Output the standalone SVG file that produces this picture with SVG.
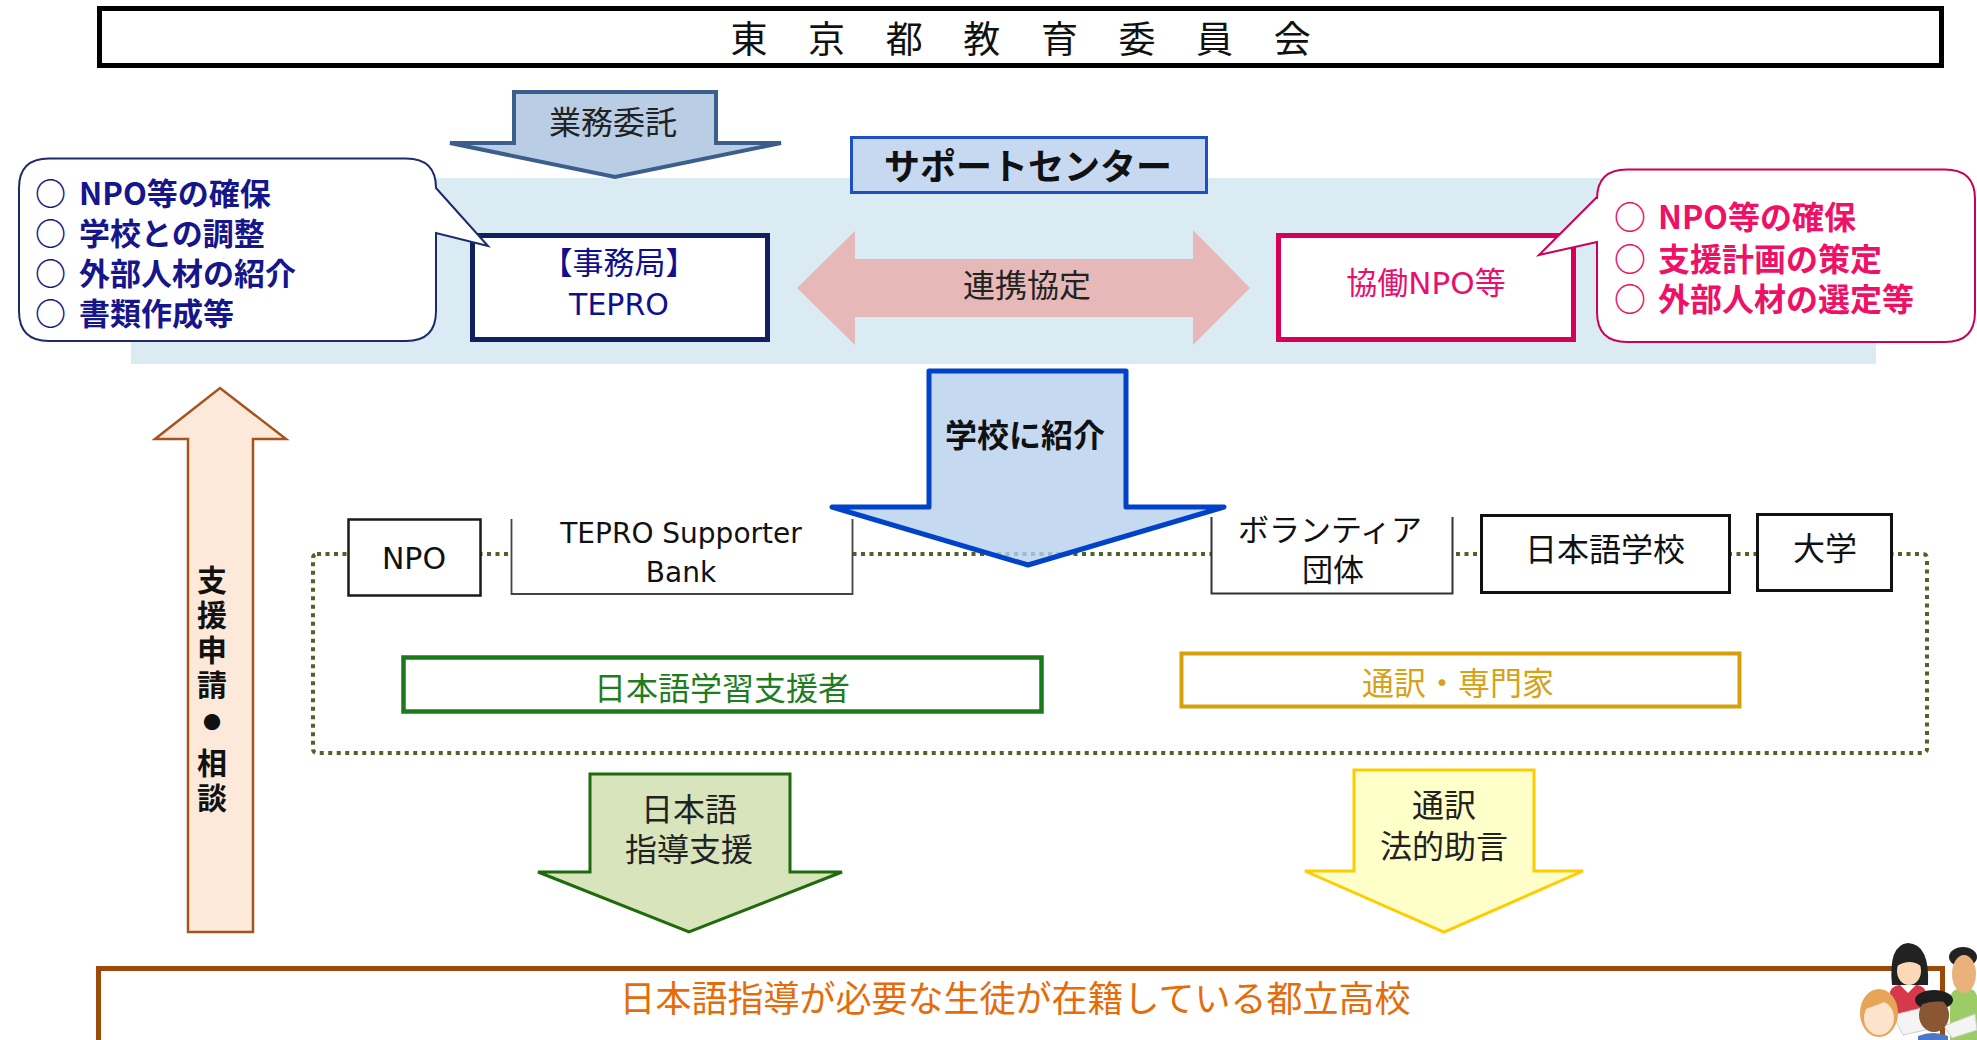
<svg xmlns="http://www.w3.org/2000/svg" width="1977" height="1040" viewBox="0 0 1977 1040">
  <style>
    .jp { font-family: "Noto Sans CJK JP", sans-serif; }
    .mix { font-family: "DejaVu Sans", "Noto Sans CJK JP", sans-serif; }
    .b { font-weight: bold; }
    .c { text-anchor: middle; }
    .box { fill: #ffffff; }
    .dots { fill: none; stroke: #4f6228; stroke-width: 4; stroke-dasharray: 4 4.5; }
    .vert { writing-mode: vertical-rl; text-orientation: upright; }
  </style>

  <rect width="1977" height="1040" fill="#ffffff"/>

  <!-- header: board of education -->
  <g id="board">
    <rect x="99.5" y="8.5" width="1842" height="57" fill="#ffffff" stroke="#000000" stroke-width="5"/>
    <text class="jp c" font-size="37" fill="#111111" y="53" x="749 826.6 904.2 981.8 1059.4 1137 1214.6 1292.2">東京都教育委員会</text>
  </g>

  <!-- support center band -->
  <rect id="support-band" x="131" y="178" width="1745" height="186" fill="#daebf3"/>

  <g id="support-center-title">
    <rect x="851.5" y="137.5" width="355" height="55" fill="#c6d9f1" stroke="#1f4fc4" stroke-width="3"/>
    <text class="jp b c" font-size="36" fill="#111111" x="1028" y="180">サポートセンター</text>
  </g>

  <g id="secretariat">
    <rect x="472.5" y="235.5" width="295" height="104" class="box" stroke="#102060" stroke-width="5"/>
    <text class="mix c" font-size="30" fill="#10108e"><tspan x="619" y="274" font-size="31">【事務局】</tspan><tspan x="619" y="315">TEPRO</tspan></text>
  </g>

  <g id="npo-partner">
    <rect x="1278.5" y="235.5" width="295" height="104" class="box" stroke="#d6005b" stroke-width="5"/>
    <text class="mix c" font-size="31" fill="#e8106e" x="1426" y="294">協働NPO等</text>
  </g>

  <!-- callout: secretariat duties -->
  <g id="secretariat-duties">
    <path d="M49,158.5 H406 Q436,158.5 436,188 L488,246 L436,233 V311 Q436,341 406,341 H49 Q19,341 19,311 V188 Q19,158.5 49,158.5 Z" fill="#ffffff" stroke="#1f2a6b" stroke-width="2"/>
    <text class="jp b" font-size="31" fill="#16168c">
      <tspan x="35" y="205">○</tspan><tspan x="79" y="205">NPO等の確保</tspan>
      <tspan x="35" y="245">○</tspan><tspan x="79" y="245">学校との調整</tspan>
      <tspan x="35" y="285">○</tspan><tspan x="79" y="285">外部人材の紹介</tspan>
      <tspan x="35" y="325">○</tspan><tspan x="79" y="325">書類作成等</tspan>
    </text>
  </g>

  <!-- callout: NPO duties -->
  <g id="npo-duties">
    <path d="M1627,169.5 H1945 Q1975,169.5 1975,199 V312 Q1975,342 1945,342 H1627 Q1597,342 1597,312 V242 L1539,255 L1597,197 V199 Q1597,169.5 1627,169.5 Z" fill="#ffffff" stroke="#cc0055" stroke-width="2"/>
    <text class="jp b" font-size="32" fill="#ee1166">
      <tspan x="1614" y="229">○</tspan><tspan x="1658" y="229">NPO等の確保</tspan>
      <tspan x="1614" y="271">○</tspan><tspan x="1658" y="271">支援計画の策定</tspan>
      <tspan x="1614" y="311">○</tspan><tspan x="1658" y="311">外部人材の選定等</tspan>
    </text>
  </g>

  <!-- resource pool -->
  <rect id="resource-pool" class="dots" x="313" y="554" width="1614" height="199" rx="4"/>

  <g id="npo">
    <rect x="348.5" y="519.5" width="132" height="76" class="box" stroke="#1a1a1a" stroke-width="2.5"/>
    <text class="mix c" font-size="30" fill="#111111" x="414" y="569">NPO</text>
  </g>

  <g id="supporter-bank">
    <rect x="511" y="519" width="342" height="75" class="box"/>
    <path d="M511.5,519 V594 H852.5 V519" fill="none" stroke="#444444" stroke-width="1.8"/>
    <text class="mix c" font-size="28" fill="#111111"><tspan x="681" y="543">TEPRO Supporter</tspan><tspan x="681" y="582">Bank</tspan></text>
  </g>

  <g id="volunteer">
    <rect x="1211" y="517" width="242" height="77" class="box"/>
    <path d="M1211.5,517 V593.5 H1452.5 V517" fill="none" stroke="#333333" stroke-width="2"/>
    <text class="jp c" font-size="31" fill="#111111"><tspan x="1330" y="541">ボランティア</tspan><tspan x="1333" y="581">団体</tspan></text>
  </g>

  <g id="language-school">
    <rect x="1481.5" y="515.5" width="248" height="77" class="box" stroke="#111111" stroke-width="3"/>
    <text class="jp c" font-size="32" fill="#111111" x="1605" y="561">日本語学校</text>
  </g>

  <g id="university">
    <rect x="1757.5" y="514.5" width="134" height="76" class="box" stroke="#111111" stroke-width="3"/>
    <text class="jp c" font-size="32" fill="#111111" x="1825" y="560">大学</text>
  </g>

  <g id="japanese-supporters">
    <rect x="403.5" y="657.5" width="638" height="54" class="box" stroke="#1b7a1b" stroke-width="4.5"/>
    <text class="jp c" font-size="32" fill="#1e7d1e" x="722" y="700">日本語学習支援者</text>
  </g>

  <g id="interpreters">
    <rect x="1181.5" y="653.5" width="558" height="53" class="box" stroke="#d4a10a" stroke-width="4"/>
    <text class="jp c" font-size="32" fill="#d6a21a" x="1458" y="695">通訳・専門家</text>
  </g>

  <!-- target: metropolitan high schools -->
  <g id="high-schools">
    <rect x="98.5" y="968.5" width="1844" height="100" fill="#ffffff" stroke="#9c4a0c" stroke-width="5"/>
    <text class="jp c" font-size="36" fill="#e46c0a" x="1015" y="1012">日本語指導が必要な生徒が在籍している都立高校</text>
  </g>

  <!-- students illustration -->
  <g id="students">
    <path d="M1950,1040 V1000 Q1950,988 1964,988 Q1977,988 1977,998 V1040 Z" fill="#9ccc65"/>
    <ellipse cx="1963" cy="957" rx="14" ry="10" fill="#222222"/>
    <ellipse cx="1964" cy="974" rx="12" ry="19" fill="#e9b27c"/>
    <path d="M1890,1020 V992 Q1892,984 1908,984 Q1924,984 1926,992 V1020 Z" fill="#d63a4a"/>
    <path d="M1900,985 L1908,993 L1916,985 Z" fill="#ffffff"/>
    <path d="M1892,985 Q1888,945 1908,943 Q1930,944 1928,985 Z" fill="#222222"/>
    <ellipse cx="1909" cy="971" rx="12" ry="14" fill="#fbd9b8"/>
    <path d="M1897,966 Q1900,950 1916,953 Q1922,958 1921,966 Q1910,958 1897,966 Z" fill="#222222"/>
    <path d="M1893,1015 L1935,1005 L1948,1025 L1903,1035 Z" fill="#f4f4f4" stroke="#cfcfcf" stroke-width="1"/>
    <path d="M1944,1026 L1975,1014 L1977,1030 L1952,1038 Z" fill="#f4f4f4" stroke="#cfcfcf" stroke-width="1"/>
    <ellipse cx="1879" cy="1013" rx="19" ry="24" fill="#e7a55a"/>
    <ellipse cx="1879" cy="1018" rx="15" ry="17" fill="#fde2cc"/>
    <path d="M1862,1005 Q1870,990 1892,998 Q1882,1004 1862,1010 Z" fill="#e7a55a"/>
    <path d="M1918,1040 V1036 Q1933,1030 1948,1036 V1040 Z" fill="#4a78c8"/>
    <ellipse cx="1934" cy="1000" rx="19" ry="10" fill="#1e1e1e"/>
    <ellipse cx="1934" cy="1015" rx="15" ry="17" fill="#8a5634"/>
    <path d="M1918,1003 Q1934,992 1950,1003 Q1934,999 1918,1006 Z" fill="#1e1e1e"/>
  </g>

  <!-- connectors -->
  <g id="connectors">
    <!-- consignment -->
    <g id="consignment">
      <polygon points="514,92 716,92 716,143 781,143 615,177 450,143 514,143" fill="#b9cde5" stroke="#3b5e8c" stroke-width="4" stroke-linejoin="miter"/>
      <text class="jp c" font-size="32" fill="#222222" x="613" y="134">業務委託</text>
    </g>
    <!-- partnership agreement -->
    <g id="partnership">
      <polygon points="797,288 855,231 855,259 1193,259 1193,230 1250,288 1193,345 1193,317 855,317 855,345" fill="#e6b8b7"/>
      <text class="jp c" font-size="32" fill="#222222" x="1027" y="297">連携協定</text>
    </g>
    <!-- introduction to schools -->
    <g id="introduction">
      <polygon points="929,371 1126,371 1126,507 1224,507 1028,565 832,507 929,507" fill="#b7d0ee" fill-opacity="0.8" stroke="#0043c8" stroke-width="5" stroke-linejoin="round"/>
      <text class="jp b c" font-size="32" fill="#111111" x="1025" y="447">学校に紹介</text>
    </g>
    <!-- application and consultation -->
    <g id="application">
      <polygon points="188,932 188,439 155,439 220,388 286,439 253,439 253,932" fill="#fce9da" stroke="#a5541c" stroke-width="2.5"/>
      <text class="jp b vert" font-size="30" fill="#111111" x="212" letter-spacing="5"><tspan y="565">支援申請</tspan><tspan y="713" font-size="18" letter-spacing="0">●</tspan><tspan y="748">相談</tspan></text>
    </g>
    <!-- Japanese language support -->
    <g id="language-support">
      <polygon points="590,774 790,774 790,872 842,872 689,932 538,872 590,872" fill="#d8e4bc" stroke="#1d6b0c" stroke-width="3"/>
      <text class="jp c" font-size="32" fill="#222222"><tspan x="689" y="821">日本語</tspan><tspan x="689" y="861">指導支援</tspan></text>
    </g>
    <!-- interpretation and legal advice -->
    <g id="legal-advice">
      <polygon points="1354,770 1534,770 1534,871 1583,871 1444,932 1305,871 1354,871" fill="#ffffc9" stroke="#ffcc00" stroke-width="3"/>
      <text class="jp c" font-size="32" fill="#222222"><tspan x="1444" y="817">通訳</tspan><tspan x="1444" y="858">法的助言</tspan></text>
    </g>
  </g>
</svg>
